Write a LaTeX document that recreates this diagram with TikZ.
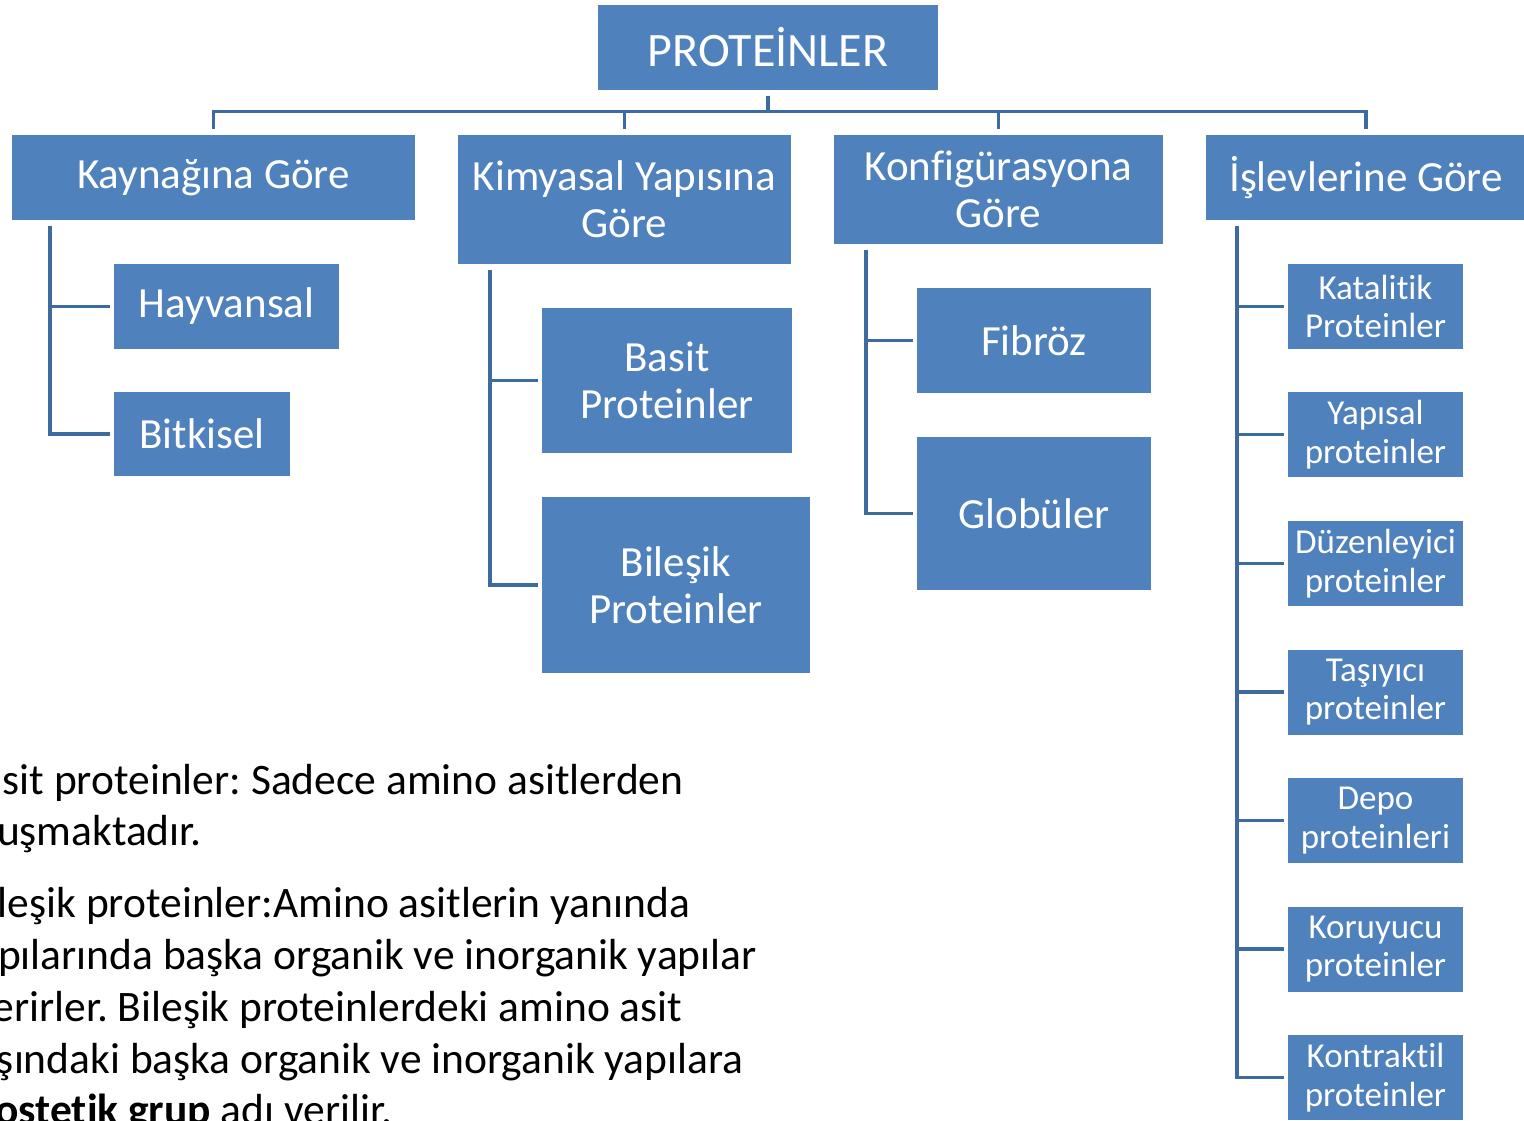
\documentclass[tikz,border=0pt]{standalone}
\usepackage{fontspec}
\setmainfont{Carlito}[Ligatures=NoCommon]
\definecolor{boxblue}{HTML}{4F81BD}
\definecolor{railblue}{HTML}{3D6A9F}
\frenchspacing
\begin{document}
\begin{tikzpicture}[x=1pt,y=-1pt,
  box/.style={fill=boxblue, text=white, inner sep=0pt, align=center,
    font=\fontsize{43}{47}\selectfont},
  leaf/.style={box, minimum width=175pt, minimum height=85pt,
    font=\fontsize{35}{38.5}\selectfont},
  rail/.style={draw=railblue, line width=3.5pt},
  body/.style={anchor=base west, inner sep=0pt, text=black,
    font=\fontsize{43.5}{52}\selectfont}]

\useasboundingbox (0,0) rectangle (1524,1120);
\clip (0,0) rectangle (1524,1120);
\fill[white] (0,0) rectangle (1524,1120);

% top level
\node[box, minimum width=340pt, minimum height=85pt,
  font=\fontsize{48}{52}\selectfont] (root) at (768,47) {PROTEİNLER};

% categories
\node[box, minimum width=403pt, minimum height=85pt]  (kay) at (213.5,177.5) {Kaynağına Göre};
\node[box, minimum width=333pt, minimum height=129pt] (kim) at (624.5,199.5) {Kimyasal Yapısına\\Göre};
\node[box, minimum width=329pt, minimum height=109pt] (kon) at (998.5,189.5) {Konfigürasyona\\Göre};
\node[box, minimum width=320pt, minimum height=85pt]  (isl) at (1366,177.5) {İşlevlerine Göre};

% by source
\node[box, minimum width=225pt, minimum height=85pt]  (hay) at (226.5,306.5) {Hayvansal};
\node[box, minimum width=176pt, minimum height=84pt]  (bit) at (202,434) {Bitkisel};

% by chemical structure
\node[box, minimum width=250pt, minimum height=145pt] (bas) at (667,380.5) {Basit\\Proteinler};
\node[box, minimum width=268pt, minimum height=176pt] (bil) at (676,585) {Bileşik\\Proteinler};

% by configuration
\node[box, minimum width=234pt, minimum height=105pt] (fib) at (1034,340.5) {Fibröz};
\node[box, minimum width=234pt, minimum height=153pt] (glo) at (1034,513.5) {Globüler};

% by function
\node[leaf] (kat) at (1375.5,306.5)  {Katalitik\\Proteinler};
\node[leaf] (yap) at (1375.5,434.5)  {Yapısal\\proteinler};
\node[leaf] (duz) at (1375.5,563.5)  {Düzenleyici\\proteinler};
\node[leaf] (tas) at (1375.5,692)    {Taşıyıcı\\proteinler};
\node[leaf] (dep) at (1375.5,820.5)  {Depo\\proteinleri};
\node[leaf] (kor) at (1375.5,949)    {Koruyucu\\proteinler};
\node[leaf] (kon2) at (1375.5,1077.5) {Kontraktil\\proteinler};

% connectors from the top box
\foreach \c in {kay,kim,kon,isl}
  \draw[rail, shorten <=6pt, shorten >=6pt] (root.south) -- ++(0,22) -| (\c.north);

% connectors inside each branch
\foreach \c in {hay,bit}
  \draw[rail, shorten <=6pt, shorten >=4pt] ([xshift=38pt]kay.south west) |- (\c.west);
\foreach \c in {bas,bil}
  \draw[rail, shorten <=6pt, shorten >=4pt] ([xshift=32pt]kim.south west) |- (\c.west);
\foreach \c in {fib,glo}
  \draw[rail, shorten <=6pt, shorten >=4pt] ([xshift=32pt]kon.south west) |- (\c.west);
\foreach \c in {kat,yap,duz,tas,dep,kor,kon2}
  \draw[rail, shorten <=6pt, shorten >=4pt] ([xshift=31pt]isl.south west) |- (\c.west);

% explanatory text
\node[body] (t1) at (-42,794)  {Basit proteinler: Sadece amino asitlerden};
\node[body] (t2) at (-36,845)  {oluşmaktadır.};
\node[body] (t3) at (-36,917)  {Bileşik proteinler:Amino asitlerin yanında};
\node[body] (t4) at (-42,969)  {yapılarında başka organik ve inorganik yapılar};
\node[body] (t5) at (-36,1021) {içerirler. Bileşik proteinlerdeki amino asit};
\node[body] (t6) at (-36,1073) {dışındaki başka organik ve inorganik yapılara};
\node[body] (t7) at (-43,1124) {\textbf{prostetik grup} adı verilir.};
\end{tikzpicture}
\end{document}
